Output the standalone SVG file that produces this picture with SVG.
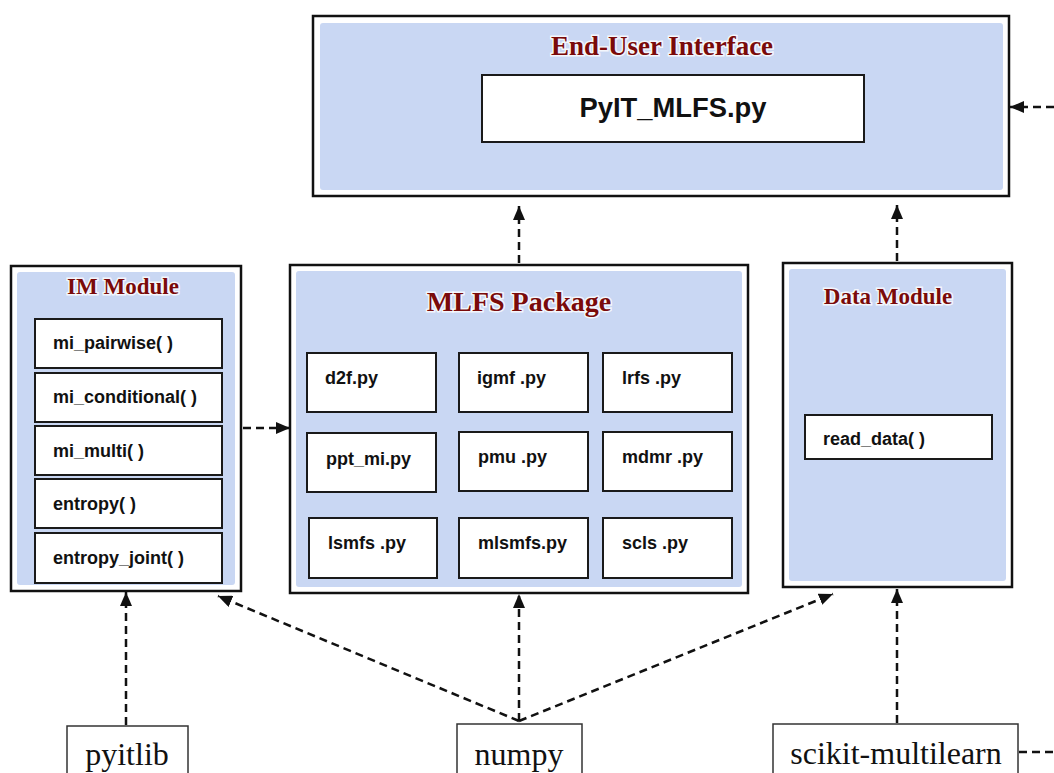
<svg xmlns="http://www.w3.org/2000/svg" width="1054" height="773" viewBox="0 0 1054 773">
  <style>
    .frame { fill: #ffffff; stroke: #111111; stroke-width: 2.5; }
    .panel { fill: #c9d7f3; stroke: none; }
    .item { fill: #ffffff; stroke: #1a1a1a; stroke-width: 2; }
    .lib { fill: #ffffff; stroke: #333333; stroke-width: 1.5; }
    .title { font-family: "Liberation Serif", "Times New Roman", serif; font-weight: bold; fill: #7a0a0a; text-anchor: middle; stroke: #ffffff; stroke-width: 3; stroke-opacity: 0.8; paint-order: stroke; }
    .code { font-family: "Liberation Sans", Arial, sans-serif; font-weight: bold; font-size: 18px; fill: #111111; }
    .libtext { font-family: "Liberation Serif", "Times New Roman", serif; font-size: 32px; fill: #111111; text-anchor: middle; }
    .dash { fill: none; stroke: #111111; stroke-width: 2.5; stroke-dasharray: 8 5; }
  </style>
  <defs>
    <marker id="arrow" markerUnits="userSpaceOnUse" markerWidth="14" markerHeight="12" viewBox="0 0 14 12" refX="14" refY="6" orient="auto">
      <path d="M0,0 L14,6 L0,12 z" fill="#111111"/>
    </marker>
  </defs>
  <rect width="1054" height="773" fill="#ffffff"/>

  <!-- End-User Interface -->
  <g id="end-user-interface">
    <rect class="frame" x="313" y="16" width="696" height="180"/>
    <rect class="panel" x="320" y="23" width="683" height="167" rx="3"/>
    <text class="title" x="662" y="55" font-size="27">End-User Interface</text>
    <rect class="item" x="482" y="75" width="382" height="67"/>
    <text x="673" y="117" font-family="'Liberation Sans', Arial, sans-serif" font-weight="bold" font-size="28" fill="#111111" text-anchor="middle" textLength="187" lengthAdjust="spacingAndGlyphs">PyIT_MLFS.py</text>
  </g>

  <!-- IM Module -->
  <g id="im-module">
    <rect class="frame" x="11" y="266" width="230" height="325"/>
    <rect class="panel" x="17" y="272" width="218" height="313" rx="3"/>
    <text class="title" x="123" y="294" font-size="23">IM Module</text>
    <rect class="item" x="35" y="319" width="187" height="49"/>
    <text class="code" x="53" y="349">mi_pairwise( )</text>
    <rect class="item" x="35" y="373" width="187" height="49"/>
    <text class="code" x="53" y="403">mi_conditional( )</text>
    <rect class="item" x="35" y="426" width="187" height="49"/>
    <text class="code" x="53" y="457">mi_multi( )</text>
    <rect class="item" x="35" y="479" width="187" height="49"/>
    <text class="code" x="53" y="510">entropy( )</text>
    <rect class="item" x="35" y="533" width="187" height="50"/>
    <text class="code" x="53" y="564">entropy_joint( )</text>
  </g>

  <!-- MLFS Package -->
  <g id="mlfs-package">
    <rect class="frame" x="290" y="265" width="458" height="328"/>
    <rect class="panel" x="296" y="271" width="446" height="316" rx="3"/>
    <text class="title" x="519" y="311" font-size="28">MLFS Package</text>
    <rect class="item" x="307" y="353" width="129" height="59"/>
    <text class="code" x="325" y="384">d2f.py</text>
    <rect class="item" x="459" y="353" width="129" height="59"/>
    <text class="code" x="477" y="384">igmf .py</text>
    <rect class="item" x="603" y="353" width="129" height="59"/>
    <text class="code" x="622" y="384">lrfs .py</text>
    <rect class="item" x="307" y="433" width="129" height="59"/>
    <text class="code" x="326" y="465">ppt_mi.py</text>
    <rect class="item" x="459" y="432" width="129" height="59"/>
    <text class="code" x="478" y="463">pmu .py</text>
    <rect class="item" x="603" y="432" width="129" height="59"/>
    <text class="code" x="622" y="463">mdmr .py</text>
    <rect class="item" x="309" y="518" width="128" height="60"/>
    <text class="code" x="328" y="549">lsmfs .py</text>
    <rect class="item" x="459" y="518" width="129" height="60"/>
    <text class="code" x="478" y="549">mlsmfs.py</text>
    <rect class="item" x="603" y="518" width="129" height="60"/>
    <text class="code" x="622" y="549">scls .py</text>
  </g>

  <!-- Data Module -->
  <g id="data-module">
    <rect class="frame" x="783" y="263" width="229" height="324"/>
    <rect class="panel" x="789" y="269" width="217" height="312" rx="3"/>
    <text class="title" x="888" y="304" font-size="23">Data Module</text>
    <rect class="item" x="805" y="415" width="187" height="44"/>
    <text class="code" x="823" y="445">read_data( )</text>
  </g>

  <!-- Libraries -->
  <g id="pyitlib">
    <rect class="lib" x="67" y="726" width="121" height="60"/>
    <text class="libtext" x="127" y="765">pyitlib</text>
  </g>
  <g id="numpy">
    <rect class="lib" x="457" y="724" width="125" height="62"/>
    <text class="libtext" x="519" y="765">numpy</text>
  </g>
  <g id="scikit-multilearn">
    <rect class="lib" x="773" y="724" width="245" height="62"/>
    <text class="libtext" x="896" y="764" font-size="31">scikit-multilearn</text>
  </g>

  <!-- Dependency connectors -->
  <g id="connectors">
    <line class="dash" x1="519" y1="263" x2="519" y2="206" marker-end="url(#arrow)"/>
    <line class="dash" x1="897" y1="261" x2="897" y2="205" marker-end="url(#arrow)"/>
    <line class="dash" x1="243" y1="428" x2="290" y2="428" marker-end="url(#arrow)"/>
    <line class="dash" x1="126" y1="725" x2="126" y2="592" marker-end="url(#arrow)"/>
    <line class="dash" x1="519" y1="721" x2="218" y2="596" marker-end="url(#arrow)"/>
    <line class="dash" x1="519" y1="721" x2="519" y2="594" marker-end="url(#arrow)"/>
    <line class="dash" x1="519" y1="721" x2="833" y2="594" marker-end="url(#arrow)"/>
    <line class="dash" x1="897" y1="723" x2="897" y2="589" marker-end="url(#arrow)"/>
    <line class="dash" x1="1019" y1="752" x2="1054" y2="752"/>
    <line class="dash" x1="1054" y1="107" x2="1010" y2="107" marker-end="url(#arrow)"/>
  </g>
</svg>
